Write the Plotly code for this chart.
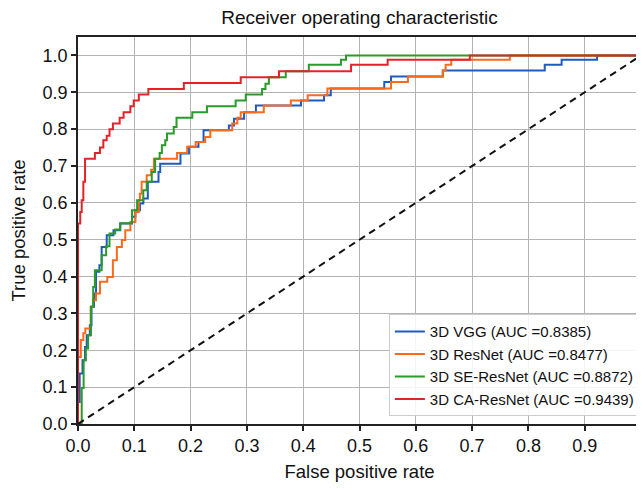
import plotly.graph_objects as go

# ROC step corner points (fpr, tpr)
vgg_fpr = [0, 0, 0.003, 0.008, 0.0125, 0.0155, 0.021, 0.024, 0.0285, 0.032, 0.038, 0.042, 0.051, 0.063, 0.075,
           0.096, 0.102, 0.11, 0.116, 0.124, 0.143, 0.146, 0.182, 0.197, 0.214, 0.223, 0.268, 0.277, 0.295,
           0.316, 0.396, 0.437, 0.449, 0.544, 0.556, 0.648, 0.829, 0.859, 0.922, 1.0]
vgg_tpr = [0, 0.06, 0.137, 0.173, 0.209, 0.241, 0.268, 0.318, 0.354, 0.413, 0.431, 0.48, 0.512, 0.526, 0.544,
           0.562, 0.58, 0.598, 0.612, 0.657, 0.684, 0.706, 0.734, 0.752, 0.765, 0.797, 0.81, 0.828, 0.846,
           0.864, 0.878, 0.892, 0.91, 0.928, 0.943, 0.959, 0.975, 0.988, 1.0, 1.0]

resnet_fpr = [0, 0, 0.005, 0.0095, 0.013, 0.0226, 0.027, 0.032, 0.039, 0.052, 0.062, 0.069, 0.078, 0.084, 0.093,
              0.102, 0.108, 0.11, 0.113, 0.122, 0.13, 0.135, 0.176, 0.194, 0.209, 0.226, 0.235, 0.274, 0.283,
              0.289, 0.33, 0.378, 0.408, 0.443, 0.556, 0.586, 0.648, 0.653, 0.663, 0.767, 1.0]
resnet_tpr = [0, 0.182, 0.228, 0.246, 0.259, 0.318, 0.336, 0.354, 0.386, 0.399, 0.444, 0.48, 0.499, 0.526, 0.548,
              0.575, 0.607, 0.625, 0.657, 0.675, 0.69, 0.72, 0.735, 0.752, 0.765, 0.779, 0.797, 0.815, 0.831,
              0.846, 0.864, 0.878, 0.892, 0.91, 0.928, 0.943, 0.959, 0.975, 0.988, 1.0, 1.0]

se_fpr = [0, 0.0066, 0.01, 0.014, 0.018, 0.023, 0.027, 0.030, 0.042, 0.050, 0.056, 0.066, 0.075, 0.096, 0.105,
          0.116, 0.122, 0.131, 0.137, 0.145, 0.149, 0.155, 0.158, 0.17, 0.175, 0.203, 0.229, 0.28, 0.298,
          0.327, 0.333, 0.339, 0.369, 0.41, 0.467, 0.476, 1.0]
se_tpr = [0, 0.098, 0.173, 0.205, 0.241, 0.318, 0.372, 0.417, 0.458, 0.482, 0.517, 0.528, 0.545, 0.58, 0.607,
          0.634, 0.657, 0.684, 0.72, 0.735, 0.756, 0.77, 0.788, 0.806, 0.831, 0.846, 0.862, 0.878, 0.894,
          0.909, 0.923, 0.941, 0.957, 0.975, 0.988, 1.0, 1.0]

ca_fpr = [0, 0, 0.004, 0.0066, 0.0095, 0.0125, 0.030, 0.039, 0.045, 0.051, 0.056, 0.062, 0.074, 0.081, 0.093,
          0.099, 0.108, 0.125, 0.188, 0.289, 0.357, 0.485, 0.55, 0.696, 1.0]
ca_tpr = [0, 0.544, 0.575, 0.607, 0.657, 0.72, 0.735, 0.75, 0.77, 0.782, 0.80, 0.815, 0.831, 0.846, 0.862,
          0.878, 0.894, 0.909, 0.925, 0.941, 0.957, 0.975, 0.988, 1.0, 1.0]

names = ["3D VGG (AUC =0.8385)", "3D ResNet (AUC =0.8477)",
         "3D SE-ResNet (AUC =0.8872)", "3D CA-ResNet (AUC =0.9439)"]
colors = ["#1f5bbf", "#ff6a1a", "#2a9a2a", "#e3232a"]

x_ticks = [0.0, 0.1, 0.2, 0.3, 0.4, 0.5, 0.6, 0.7, 0.8, 0.9]
y_ticks = [0.0, 0.1, 0.2, 0.3, 0.4, 0.5, 0.6, 0.7, 0.8, 0.9, 1.0]
diag = [0, 1]

fig = go.Figure()
series = [(vgg_fpr, vgg_tpr), (resnet_fpr, resnet_tpr), (se_fpr, se_tpr), (ca_fpr, ca_tpr)]
for (fx, ty), n, c in zip(series, names, colors):
    fig.add_trace(go.Scatter(x=fx, y=ty, mode="lines", name=n,
                             line=dict(color=c, width=2, shape="hv")))

fig.add_trace(go.Scatter(x=diag, y=diag, mode="lines", showlegend=False,
                         line=dict(color="#111111", width=2, dash="7px,5px")))

font = "Liberation Sans, Arial, Helvetica, sans-serif"
axis_common = dict(showline=True, linecolor="#222222", linewidth=1.5, mirror=True,
                   showgrid=True, gridcolor="#b4b4b4", gridwidth=1.3, zeroline=False,
                   ticks="outside", ticklen=5, tickwidth=1.5, tickcolor="#222222",
                   tickfont=dict(size=18, color="#111111"), tickformat=".1f", automargin=False)

W, H = 636, 482
fig.update_layout(
    width=W, height=H,
    margin=dict(l=70, r=3, t=29, b=66, autoexpand=False),
    paper_bgcolor="white", plot_bgcolor="white",
    font=dict(family=font, color="#111111"),
    title=dict(text="Receiver operating characteristic", x=351.5 / W, xanchor="center",
               y=1 - 9 / H, yanchor="middle", font=dict(size=19), automargin=False),
    xaxis=dict(range=[0, 1], tickvals=x_ticks,
               title=dict(text="False positive rate", font=dict(size=18.5), standoff=10), **axis_common),
    yaxis=dict(range=[0, 1.05], tickvals=y_ticks,
               title=dict(text="True positive rate", font=dict(size=18.5), standoff=14), **axis_common),
    legend=dict(x=0.998, y=0.02, xanchor="right", yanchor="bottom",
                bgcolor="rgba(255,255,255,0.85)", bordercolor="#cccccc", borderwidth=1,
                font=dict(size=15, color="#111111"), tracegroupgap=0, itemwidth=30),
)

fig.write_html("out.html")
